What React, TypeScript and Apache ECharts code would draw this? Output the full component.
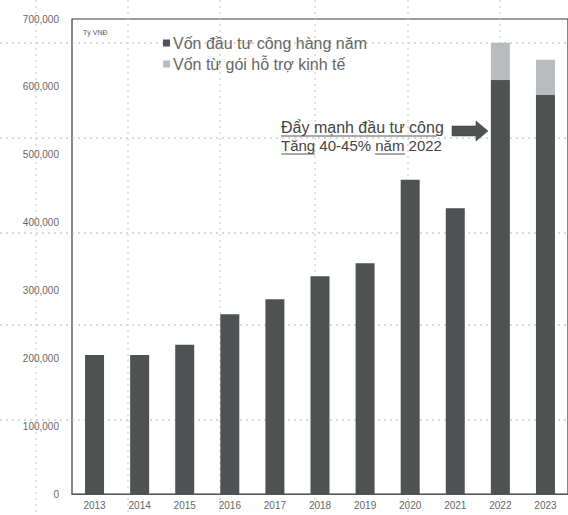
import React, { useEffect, useRef } from "react";
import * as echarts from "echarts";

// Public investment capital by year (billion VND)
const years = ["2013", "2014", "2015", "2016", "2017", "2018", "2019", "2020", "2021", "2022", "2023"];
const annualCapital = [205, 205, 220, 265, 287, 321, 340, 463, 421, 610, 588].map((v) => v * 1000);
const stimulusCapital = [null, null, null, null, null, null, null, null, null, 55, 52].map((v) =>
  v == null ? null : v * 1000
);
const yTicks = [0, 100000, 200000, 300000, 400000, 500000, 600000, 700000];
const seriesNames = ["Vốn đầu tư công hàng năm", "Vốn từ gói hỗ trợ kinh tế"];

const FONT = "'Liberation Sans', Arial, sans-serif";

// faint dotted paper grid behind the chart
const paperH = [43, 138, 233, 325, 420];
const paperV = [36, 128, 220, 315, 408, 500];

export default function App() {
  const ref = useRef<HTMLDivElement>(null);

  useEffect(() => {
    if (!ref.current) return;
    const chart = echarts.init(ref.current, undefined, { renderer: "svg" });

    const paperLines: any[] = [];
    paperH.forEach((y) =>
      paperLines.push({
        type: "line",
        z: 0,
        silent: true,
        shape: { x1: 0, y1: y, x2: 568, y2: y },
        style: { stroke: "#b5b5b5", lineWidth: 1, lineDash: [2, 4] },
      })
    );
    paperV.forEach((x) =>
      paperLines.push({
        type: "line",
        z: 0,
        silent: true,
        shape: { x1: x, y1: 0, x2: x, y2: 515 },
        style: { stroke: "#c4c4c4", lineWidth: 1, lineDash: [2, 4] },
      })
    );

    chart.setOption({
      animation: false,
      backgroundColor: "#ffffff",
      grid: {
        left: 72,
        top: 19,
        width: 499,
        height: 475,
        show: true,
        borderColor: "#3a3a3a",
        borderWidth: 1.2,
        backgroundColor: "transparent",
      },
      legend: {
        orient: "vertical",
        left: 158,
        top: 30,
        itemWidth: 7,
        itemHeight: 7,
        itemGap: 5,
        icon: "rect",
        textStyle: { fontFamily: FONT, fontSize: 16, color: "#666", padding: [0, 0, 0, -2] },
        data: seriesNames,
      },
      xAxis: {
        type: "category",
        data: years,
        axisLine: { lineStyle: { color: "#555", width: 1 } },
        axisTick: { show: false },
        axisLabel: { fontFamily: FONT, fontSize: 10, color: "#666", margin: 6 },
      },
      yAxis: {
        type: "value",
        min: 0,
        max: 700000,
        interval: 100000,
        axisLine: { show: false },
        axisTick: { show: false },
        splitLine: { show: false },
        axisLabel: {
          fontFamily: FONT,
          fontSize: 10,
          color: "#666",
          margin: 13,
          formatter: (v: number) => (yTicks.includes(v) ? v.toLocaleString("en-US") : ""),
        },
      },
      series: [
        {
          name: seriesNames[0],
          type: "bar",
          stack: "total",
          data: annualCapital,
          barWidth: 19,
          itemStyle: { color: "#4f5252" },
        },
        {
          name: seriesNames[1],
          type: "bar",
          stack: "total",
          data: stimulusCapital,
          barWidth: 19,
          itemStyle: { color: "#b9bcbf" },
        },
      ],
      graphic: [
        ...paperLines,
        {
          type: "text",
          left: 83,
          top: 29,
          z: 10,
          style: { text: "Tỷ VNĐ", font: `7px ${FONT}`, fill: "#555" },
        },
        {
          type: "text",
          left: 281,
          top: 119,
          z: 10,
          style: { text: "Đẩy mạnh đầu tư công", font: `16px ${FONT}`, fill: "#444" },
        },
        {
          type: "line",
          z: 10,
          shape: { x1: 281, y1: 136, x2: 437, y2: 136 },
          style: { stroke: "#555", lineWidth: 1 },
        },
        {
          type: "text",
          left: 281,
          top: 138,
          z: 10,
          style: { text: "Tăng 40-45% năm 2022", font: `15px ${FONT}`, fill: "#444" },
        },
        {
          type: "line",
          z: 10,
          shape: { x1: 281, y1: 154, x2: 315, y2: 154 },
          style: { stroke: "#555", lineWidth: 1 },
        },
        {
          type: "line",
          z: 10,
          shape: { x1: 375, y1: 154, x2: 405, y2: 154 },
          style: { stroke: "#555", lineWidth: 1 },
        },
        {
          type: "polygon",
          z: 10,
          shape: {
            points: [
              [452, 126],
              [476, 126],
              [476, 121],
              [488, 131],
              [476, 141],
              [476, 136],
              [452, 136],
            ],
          },
          style: { fill: "#4f5252", stroke: "#3a3a3a", lineWidth: 0.5 },
        },
      ],
    });

    return () => chart.dispose();
  }, []);

  return <div ref={ref} style={{ width: 568, height: 515, position: "absolute", left: 0, top: 0 }} />;
}
